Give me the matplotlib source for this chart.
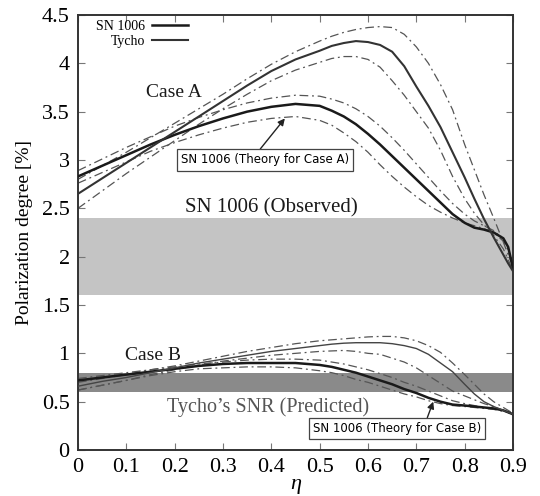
import matplotlib
matplotlib.use("Agg")
import matplotlib.pyplot as plt

# eta grid shared by every curve (denser where the curves bend)
eta = [0.0, 0.05, 0.1, 0.15, 0.2, 0.25, 0.3, 0.35, 0.4, 0.45, 0.5, 0.525,
       0.55, 0.575, 0.6, 0.625, 0.65, 0.675, 0.7, 0.725, 0.75, 0.775, 0.8,
       0.82, 0.84, 0.86, 0.88, 0.89, 0.9]

# Case A
sn_a = [2.83, 2.94, 3.05, 3.16, 3.26, 3.35, 3.43, 3.50, 3.55, 3.58, 3.56, 3.51,
        3.45, 3.37, 3.27, 3.16, 3.04, 2.92, 2.80, 2.68, 2.56, 2.44, 2.35,
        2.30, 2.28, 2.25, 2.19, 2.10, 1.88]
sn_a_hi = [2.89, 3.01, 3.13, 3.24, 3.35, 3.44, 3.52, 3.59, 3.64, 3.67, 3.66, 3.63,
           3.59, 3.53, 3.45, 3.35, 3.23, 3.10, 2.96, 2.82, 2.68, 2.55, 2.44,
           2.37, 2.32, 2.27, 2.18, 2.08, 1.90]
sn_a_lo = [2.76, 2.87, 2.98, 3.09, 3.18, 3.26, 3.33, 3.39, 3.43, 3.45, 3.41, 3.36,
           3.28, 3.19, 3.08, 2.95, 2.83, 2.72, 2.62, 2.53, 2.46, 2.40, 2.35,
           2.32, 2.29, 2.25, 2.16, 2.07, 1.86]
ty_a = [2.65, 2.81, 2.97, 3.13, 3.29, 3.45, 3.61, 3.77, 3.92, 4.04, 4.13, 4.18,
        4.21, 4.23, 4.22, 4.19, 4.12, 3.97, 3.76, 3.56, 3.34, 3.08, 2.82,
        2.60, 2.39, 2.20, 2.02, 1.93, 1.85]
ty_a_hi = [2.80, 2.94, 3.08, 3.23, 3.38, 3.53, 3.68, 3.84, 3.99, 4.12, 4.23, 4.28,
           4.32, 4.35, 4.37, 4.38, 4.37, 4.30, 4.17, 4.00, 3.78, 3.52, 3.16,
           2.90, 2.64, 2.40, 2.15, 2.02, 1.90]
ty_a_lo = [2.50, 2.68, 2.86, 3.03, 3.20, 3.37, 3.53, 3.68, 3.82, 3.93, 4.01, 4.05,
           4.07, 4.07, 4.04, 3.96, 3.82, 3.67, 3.50, 3.33, 3.10, 2.83, 2.60,
           2.45, 2.33, 2.22, 2.08, 1.97, 1.85]

# Case B
sn_b = [0.72, 0.75, 0.78, 0.81, 0.84, 0.87, 0.89, 0.90, 0.90, 0.90, 0.88, 0.86,
        0.83, 0.80, 0.76, 0.72, 0.68, 0.63, 0.59, 0.54, 0.50, 0.47, 0.46,
        0.45, 0.44, 0.43, 0.41, 0.39, 0.37]
sn_b_hi = [0.74, 0.77, 0.80, 0.83, 0.86, 0.89, 0.91, 0.93, 0.94, 0.94, 0.93, 0.91,
           0.89, 0.86, 0.83, 0.79, 0.75, 0.70, 0.66, 0.61, 0.56, 0.51, 0.48,
           0.46, 0.44, 0.43, 0.41, 0.39, 0.37]
sn_b_lo = [0.62, 0.67, 0.72, 0.77, 0.81, 0.84, 0.85, 0.86, 0.86, 0.85, 0.82, 0.80,
           0.77, 0.73, 0.70, 0.66, 0.62, 0.58, 0.55, 0.51, 0.48, 0.46, 0.45,
           0.44, 0.43, 0.42, 0.40, 0.39, 0.37]
ty_b = [0.66, 0.71, 0.75, 0.80, 0.85, 0.90, 0.94, 0.98, 1.02, 1.05, 1.08, 1.095,
        1.105, 1.11, 1.11, 1.11, 1.10, 1.08, 1.05, 0.99, 0.90, 0.81, 0.68,
        0.58, 0.50, 0.45, 0.41, 0.39, 0.37]
ty_b_hi = [0.70, 0.74, 0.78, 0.83, 0.87, 0.92, 0.97, 1.02, 1.06, 1.10, 1.13, 1.14,
           1.15, 1.16, 1.17, 1.175, 1.175, 1.16, 1.13, 1.08, 1.01, 0.90, 0.78,
           0.68, 0.58, 0.50, 0.44, 0.41, 0.38]
ty_b_lo = [0.62, 0.67, 0.72, 0.78, 0.83, 0.88, 0.92, 0.95, 0.98, 1.00, 1.02, 1.025,
           1.03, 1.02, 1.00, 0.99, 0.95, 0.91, 0.85, 0.77, 0.69, 0.61, 0.56,
           0.52, 0.48, 0.45, 0.41, 0.39, 0.37]

observed_band = (1.6, 2.4)
predicted_band = (0.6, 0.8)

xticks = [0, 0.1, 0.2, 0.3, 0.4, 0.5, 0.6, 0.7, 0.8, 0.9]
xticklabels = ["0", "0.1", "0.2", "0.3", "0.4", "0.5", "0.6", "0.7", "0.8", "0.9"]
yticks = [0, 0.5, 1, 1.5, 2, 2.5, 3, 3.5, 4, 4.5]
yticklabels = ["0", "0.5", "1", "1.5", "2", "2.5", "3", "3.5", "4", "4.5"]

serif = "Liberation Serif"
dashdot = (0, (7, 3, 1.5, 3))
env_col = "#555555"

fig = plt.figure(figsize=(5.4, 4.96), dpi=100)
ax = fig.add_axes([0.1444, 0.0927, 0.8056, 0.8771])

ax.axhspan(*observed_band, color="#c4c4c4", lw=0, zorder=0)
ax.axhspan(*predicted_band, color="#8a8a8a", lw=0, zorder=0)

for lo, hi in [(sn_a_lo, sn_a_hi), (ty_a_lo, ty_a_hi), (sn_b_lo, sn_b_hi), (ty_b_lo, ty_b_hi)]:
    ax.plot(eta, lo, color=env_col, lw=0.9, linestyle=dashdot, zorder=2)
    ax.plot(eta, hi, color=env_col, lw=0.9, linestyle=dashdot, zorder=2)

l_sn, = ax.plot(eta, sn_a, color="#1a1a1a", lw=1.8, zorder=3)
l_ty, = ax.plot(eta, ty_a, color="#333333", lw=1.5, zorder=3)
ax.plot(eta, sn_b, color="#1a1a1a", lw=1.8, zorder=3)
ax.plot(eta, ty_b, color="#444444", lw=1.0, zorder=3)

ax.set_xlim(0, 0.9)
ax.set_ylim(0, 4.5)
ax.set_xticks(xticks)
ax.set_xticklabels(xticklabels, family=serif, fontsize=16)
ax.set_yticks(yticks)
ax.set_yticklabels(yticklabels, family=serif, fontsize=16)
ax.tick_params(direction="in", top=True, right=True, length=5, width=0.8,
               color="#777777", pad=6)
for s in ax.spines.values():
    s.set_linewidth(1.4)
    s.set_color("#333333")

ax.set_ylabel("Polarization degree [%]", family=serif, fontsize=14, labelpad=6)
ax.set_xlabel("\u03b7", family=serif, style="italic", fontsize=16, labelpad=-2)

leg = ax.legend([l_sn, l_ty], ["SN 1006", "Tycho"], loc="upper left",
                bbox_to_anchor=(0.02, 1.01), frameon=False, markerfirst=False,
                prop={"family": serif, "size": 10}, handlelength=2.6,
                handletextpad=0.5, labelspacing=0.1, borderaxespad=0.3)

ax.text(0.14, 3.70, "Case A", family=serif, fontsize=14, color="#1a1a1a", va="center")
ax.text(0.4, 2.51, "SN 1006 (Observed)", family=serif, fontsize=15,
        color="#1a1a1a", ha="center", va="center")
ax.text(0.097, 0.98, "Case B", family=serif, fontsize=14, color="#1a1a1a", va="center")
ax.text(0.393, 0.44, "Tycho\u2019s SNR (Predicted)", family=serif, fontsize=14.5,
        color="#555555", ha="center", va="center")

box = dict(boxstyle="square,pad=0.35", fc="white", ec="#444444", lw=0.9)
ax.annotate("SN 1006 (Theory for Case A)", xy=(0.428, 3.43), xytext=(0.387, 3.0),
            ha="center", va="center", fontsize=8.5, family="DejaVu Sans", bbox=box,
            arrowprops=dict(arrowstyle="-|>", color="#222222", lw=1.0,
                            mutation_scale=10, shrinkA=0, shrinkB=0,
                            relpos=(0.45, 1.0)))
ax.annotate("SN 1006 (Theory for Case B)", xy=(0.735, 0.5), xytext=(0.66, 0.22),
            ha="center", va="center", fontsize=8.5, family="DejaVu Sans", bbox=box,
            arrowprops=dict(arrowstyle="-|>", color="#222222", lw=1.0,
                            mutation_scale=10, shrinkA=0, shrinkB=0,
                            relpos=(0.67, 1.0)))

fig.savefig("out.png", dpi=100)
